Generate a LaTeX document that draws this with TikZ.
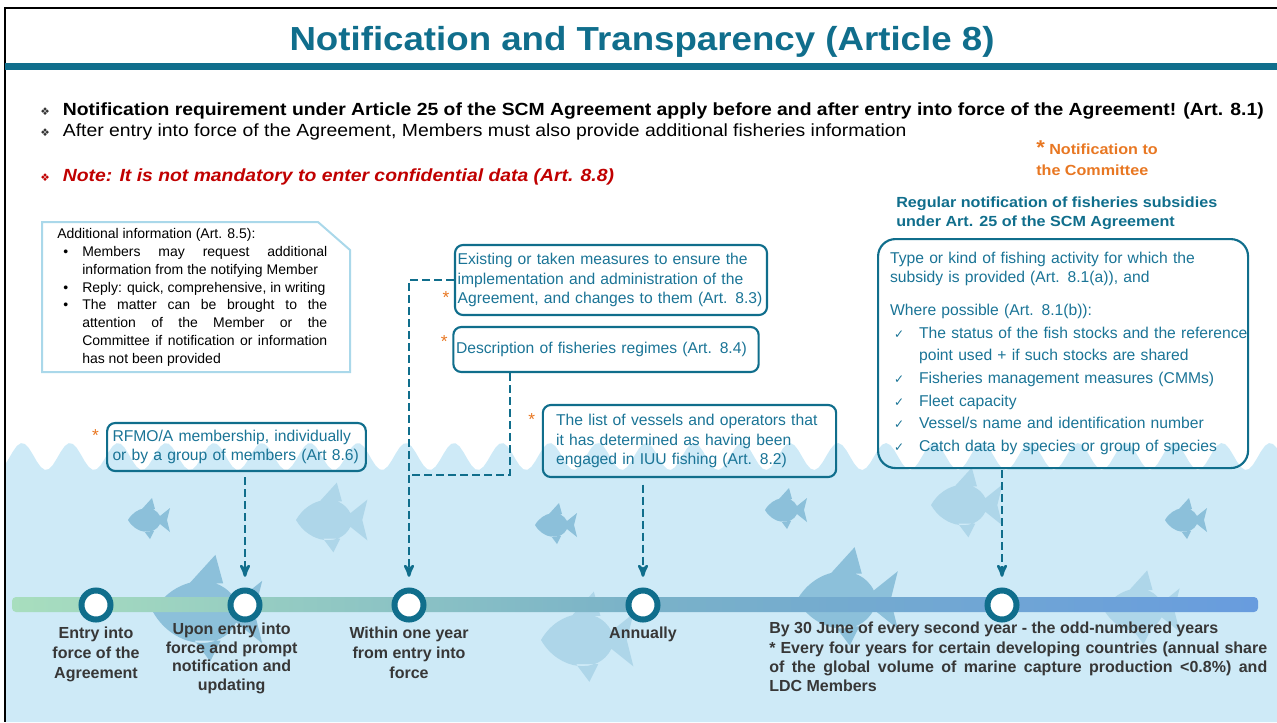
\documentclass[tikz,border=0pt]{standalone}
\usepackage{fontspec}
\setmainfont{Liberation Sans}
\newfontfamily\widefont{Liberation Sans}[FakeStretch=1.1]
\newfontfamily\symfont{DejaVu Sans}
\usetikzlibrary{arrows,positioning}

\definecolor{wtoteal}{RGB}{16,110,140}
\definecolor{boxtext}{RGB}{26,116,150}
\definecolor{starorange}{RGB}{232,119,34}
\definecolor{notered}{RGB}{192,0,0}
\definecolor{seablue}{RGB}{206,234,247}
\definecolor{fishdark}{RGB}{140,192,218}
\definecolor{fishlight}{RGB}{174,214,233}
\definecolor{paleedge}{RGB}{170,216,234}
\definecolor{labelgray}{RGB}{55,55,55}
\definecolor{barstart}{RGB}{168,222,190}
\definecolor{barmid}{RGB}{122,178,200}
\definecolor{barend}{RGB}{104,156,222}

\newcommand{\bul}[1]{\makebox[17pt][l]{\color{#1}\symfont\fontsize{8}{8}\selectfont ❖}}
\newcommand{\chk}{\makebox[21.75pt][l]{\hspace{3pt}\symfont\fontsize{9}{9}\selectfont ✓}}
\newcommand{\dotitem}{\par\hangindent=18.75pt\hangafter=1\noindent\makebox[18.75pt][l]{\hspace{4.5pt}\textbullet}}
% x, y, size, signed x-size, colour
\newcommand{\fish}[5]{%
  \fill[#5, shift={(#1,#2)}, xscale=#4, yscale=#3]
    (-20,0) .. controls (-12,-14) and (6,-16) .. (12,-4) -- (22,-12) -- (19,0) -- (22,12) -- (12,4)
    .. controls (6,16) and (-12,14) .. (-20,0) -- cycle
    (-6,-11) -- (4,-22) -- (7,-11) -- cycle
    (-4,11) -- (2,19) -- (6,11) -- cycle;}

\begin{document}
\begin{tikzpicture}[x=0.75pt,y=-0.75pt,>=stealth',inner sep=0pt]
  \tikzset{
    info/.style={draw=wtoteal, line width=1.6pt, rounded corners=6pt, text=boxtext, align=left,
      font=\fontsize{11.75}{14.6}\selectfont, inner xsep=2pt, inner ysep=4pt},
    star/.style={text=starorange, font=\fontsize{13}{13}\selectfont},
    tick/.style={circle, draw=wtoteal, line width=4.5pt, fill=white, minimum size=21.75pt},
    when/.style={text=labelgray, font=\bfseries\fontsize{12}{15}\selectfont, align=center},
    link/.style={wtoteal, line width=2pt, dash pattern=on 6pt off 3pt},
  }
  \useasboundingbox (0,0) rectangle (1277,722);

  % sea with waves and fish
  \fill[seablue] (5,722) -- plot[domain=5:1277,samples=320] (\x,{456.5-13.5*cos(7.5*(\x-70))}) -- (1277,722) -- cycle;
  \fish{148}{520}{1.0}{1.0}{fishdark}
  \fish{330}{520}{1.7}{1.7}{fishlight}
  \fish{205}{612}{2.6}{2.6}{fishdark}
  \fish{555}{525}{1.0}{1.0}{fishdark}
  \fish{585}{640}{2.2}{2.2}{fishlight}
  \fish{785}{510}{1.0}{1.0}{fishdark}
  \fish{845}{600}{2.4}{2.4}{fishdark}
  \fish{965}{505}{1.7}{1.7}{fishlight}
  \fish{1140}{610}{1.8}{1.8}{fishlight}
  \fish{1185}{520}{1.0}{1.0}{fishdark}

  % frame and heading
  \draw[line width=2pt] (1277,8) -- (5,8) -- (5,722);
  \node[text=wtoteal, font=\widefont\bfseries\fontsize{25}{28}\selectfont] (title) at (642,42) {Notification and Transparency (Article 8)};
  \fill[wtoteal] (5,63) rectangle (1277,70);

  \node[anchor=west, font=\widefont\fontsize{13.2}{15}\selectfont] (req) at (40,111)
    {\bul{black!80}\textbf{Notification requirement under Article 25 of the SCM Agreement apply before and after entry into force of the Agreement! (Art. 8.1)}};
  \node[anchor=west, font=\widefont\fontsize{13.2}{15}\selectfont] (after) at (40,132)
    {\bul{black!80}After entry into force of the Agreement, Members must also provide additional fisheries information};
  \node[anchor=west, font=\widefont\bfseries\itshape\fontsize{13.2}{15}\selectfont, text=notered] (note) at (40,177)
    {\bul{notered}Note: It is not mandatory to enter confidential data (Art. 8.8)};

  \node[anchor=north west, text=starorange, font=\widefont\bfseries\fontsize{11}{15.75}\selectfont, align=left] (committee) at (1036,140)
    {{\fontsize{15}{15}\selectfont*} Notification to\\the Committee};
  \node[anchor=north west, text=wtoteal, font=\widefont\bfseries\fontsize{11}{14.25}\selectfont, align=left] (subhead) at (896,197)
    {Regular notification of fisheries subsidies\\under Art. 25 of the SCM Agreement};

  % additional information box
  \draw[paleedge, line width=1.5pt] (42,372) -- (42,222) -- (318,222) -- (350,250) -- (350,372) -- cycle;
  \node[anchor=north west, text width=202.5pt, align=justify, font=\fontsize{10.5}{13.4}\selectfont] (addinfo) at (57,228)
    {\hyphenpenalty=10000 Additional information (Art. 8.5):
     \dotitem Members may request additional\linebreak information from the notifying Member
     \dotitem Reply: quick, comprehensive, in writing
     \dotitem The matter can be brought to the\linebreak attention of the Member or the\linebreak
       Committee if notification or information\linebreak has not been provided\par};

  % information boxes
  \node[info, text width=186pt, inner xsep=4pt, minimum height=36pt] (rfmo) at (236.5,447)
    {RFMO/A membership, individually\\or by a group of members (Art 8.6)};
  \node[info, text width=230pt, minimum height=52.5pt] (ex) at (611,280)
    {Existing or taken measures to ensure the\\implementation and administration of the\\Agreement, and changes to them (Art. 8.3)};
  \node[info, text width=225pt, minimum height=33.75pt] (desc) at (606,349.5)
    {Description of fisheries regimes (Art. 8.4)};
  \node[info, text width=200pt, inner xsep=10pt, minimum height=54pt] (iuu) at (689.5,441)
    {The list of vessels and operators that\\it has determined as having been\\engaged in IUU fishing (Art. 8.2)};
  \node[info, rounded corners=13pt, anchor=north west, text width=259.5pt, inner xsep=9pt, minimum height=171.75pt,
        font=\fontsize{11.75}{17}\selectfont] (subs) at (877,238)
    {Type or kind of fishing activity for which the\\[-2.75pt]
     subsidy is provided (Art. 8.1(a)), and\\[7.75pt]
     Where possible (Art. 8.1(b)):\\
     \mbox{\chk The status of the fish stocks and the reference}\\
     \hspace*{21.75pt}point used + if such stocks are shared\\
     \chk Fisheries management measures (CMMs)\\
     \chk Fleet capacity\\
     \chk Vessel/s name and identification number\\
     \chk Catch data by species or group of species};

  \node[star] (s1) at ([xshift=-8pt,yshift=-10pt]rfmo.north west) {*};
  \node[star] (s2) at ([xshift=-6pt,yshift=14pt]ex.south west) {*};
  \node[star] (s3) at ([xshift=-6pt,yshift=-12pt]desc.north west) {*};
  \node[star] (s4) at ([xshift=-7.5pt,yshift=-12pt]iuu.north west) {*};

  % time line
  \shade[left color=barstart, right color=barend, middle color=barmid, rounded corners=3pt] (12,597) rectangle (1258,612);
  \node[tick] (t1) at (96,605) {};
  \node[tick] (t2) at (245,605) {};
  \node[tick] (t3) at (409,605) {};
  \node[tick] (t4) at (643,605) {};
  \node[tick] (t5) at (1002,605) {};

  \node[when, below=3pt of t1] (l1) {Entry into\\force of the\\Agreement};
  \node[when, below=0pt of t2, xshift=-10pt, font=\bfseries\fontsize{12}{14}\selectfont] (l2) {Upon entry into\\force and prompt\\notification and\\updating};
  \node[when, below=3pt of t3] (l3) {Within one year\\from entry into\\force};
  \node[when, below=3pt of t4] (l4) {Annually};
  \node[when, anchor=north west, text width=373.5pt, align=justify, font=\bfseries\fontsize{12}{14.5}\selectfont] (l5) at (769,622)
    {\hyphenpenalty=10000 By 30 June of every second year - the odd-numbered years\par
     * Every four years for certain developing countries (annual share\linebreak of the global volume of marine capture production <0.8\%) and\linebreak LDC Members\par};

  % links to the time line
  \coordinate (knee) at (409,475);
  \draw[link, ->, shorten <=4pt, shorten >=8pt] (rfmo.south -| t2) -- (t2);
  \draw[link, ->, shorten >=8pt] (ex.west) -| (t3);
  \draw[link] ([xshift=-72pt]desc.south) |- (knee);
  \draw[link, ->, shorten <=5pt, shorten >=8pt] (iuu.south -| t4) -- (t4);
  \draw[link, ->, shorten <=1pt, shorten >=8pt] (subs.south -| t5) -- (t5);
\end{tikzpicture}
\end{document}
